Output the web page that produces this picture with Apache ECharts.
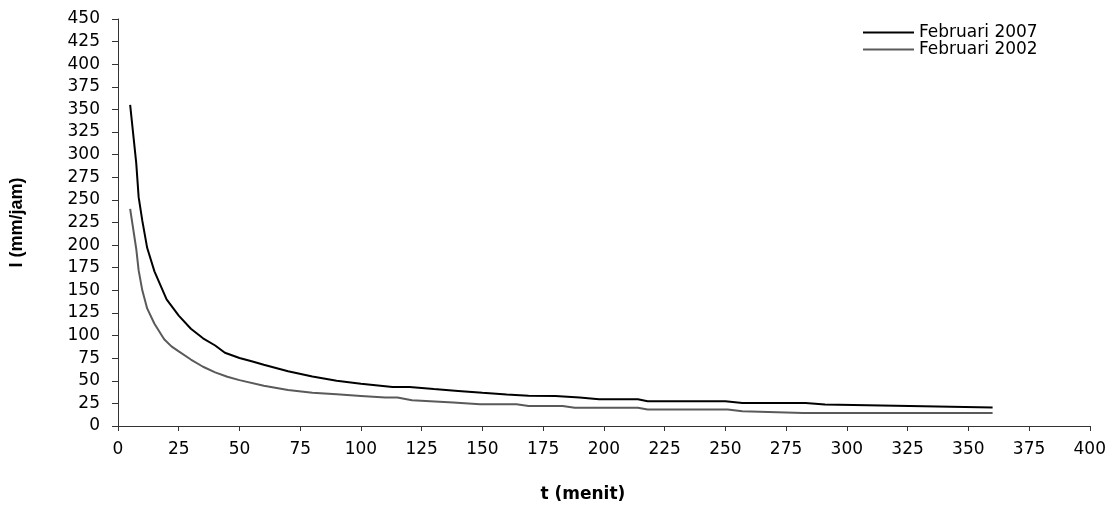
<!DOCTYPE html>
<html>
<head>
<meta charset="utf-8">
<script src="https://cdn.jsdelivr.net/npm/echarts@6/dist/echarts.min.js"></script>
<style>
html,body{margin:0;padding:0;background:#fff;}
#chart{width:1109px;height:514px;}
</style>
</head>
<body>
<div id="chart"></div>
<script>
// Data
const seriesNames = ['Februari 2007', 'Februari 2002'];
const t2007 = [5, 7.5, 8.5, 10, 12, 15, 20, 25, 30, 35, 40, 44, 50, 55, 60, 70, 80, 90, 100, 113, 120, 130, 140, 150, 160, 169, 180, 190, 198, 214, 218, 250, 257, 283, 291, 320, 360];
const i2007 = [355, 291, 253, 227, 197, 171, 140, 122, 107.5, 97, 89, 81, 75.2, 71.5, 67.8, 60.6, 54.8, 50, 46.8, 43, 43, 40.8, 38.8, 36.7, 34.8, 33.4, 33.3, 31.4, 29.6, 29.6, 27.4, 27.4, 25.5, 25.5, 23.8, 22.3, 20.4];
const t2002 = [5, 7.5, 8.5, 10, 12, 15, 19, 22, 25, 30, 35, 40, 45, 50, 60, 70, 80, 90, 100, 110, 115, 121, 138, 149, 164, 169, 183, 188, 214, 218, 251, 257, 282, 360];
const i2002 = [240, 196, 172, 150, 130, 113, 96, 88, 82.5, 73.5, 65.5, 59.3, 54.5, 50.7, 44.6, 39.8, 36.7, 35, 33.2, 31.4, 31.4, 28.5, 25.9, 24, 24, 22.2, 22.2, 20.2, 20.2, 18.2, 18.2, 16.3, 14.4, 14.4];
const xTicks = {min: 0, max: 400, interval: 25};
const yTicks = {min: 0, max: 450, interval: 25};
const xTitle = 't (menit)';
const yTitle = 'I (mm/jam)';

const pairs = (ts, vs) => ts.map((t, k) => [t, vs[k]]);

const chart = echarts.init(document.getElementById('chart'), null, {renderer: 'canvas'});
const axisColor = '#333';
const labelFont = {fontFamily: 'DejaVu Sans', fontSize: 17, color: '#000'};

chart.setOption({
  backgroundColor: '#fff',
  animation: false,
  grid: {left: 118, right: 19, top: 19, bottom: 88, containLabel: false},
  legend: {
    orient: 'vertical',
    left: 858,
    top: 19,
    icon: 'rect',
    itemWidth: 51,
    itemHeight: 2,
    itemGap: 0,
    textStyle: {fontFamily: 'DejaVu Sans', fontSize: 17, color: '#000', lineHeight: 15},
    data: seriesNames
  },
  xAxis: {
    type: 'value',
    min: xTicks.min, max: xTicks.max, interval: xTicks.interval,
    name: xTitle,
    nameLocation: 'middle',
    nameGap: 60,
    nameTextStyle: {fontFamily: 'DejaVu Sans', fontWeight: 'bold', fontSize: 17, color: '#000', padding: [0, 42, 0, 0]},
    splitLine: {show: false},
    axisLine: {show: true, lineStyle: {color: axisColor, width: 1}},
    axisTick: {show: true, inside: false, length: 5, lineStyle: {color: axisColor}},
    axisLabel: Object.assign({margin: 15}, labelFont)
  },
  yAxis: {
    type: 'value',
    min: yTicks.min, max: yTicks.max, interval: yTicks.interval,
    name: yTitle,
    nameLocation: 'middle',
    nameGap: 92,
    nameRotate: 90,
    nameTextStyle: {fontFamily: 'Liberation Sans', fontWeight: 'bold', fontSize: 18, color: '#000'},
    splitLine: {show: false},
    axisLine: {show: true, lineStyle: {color: axisColor, width: 1}},
    axisTick: {show: true, inside: false, length: 6, lineStyle: {color: axisColor}},
    axisLabel: Object.assign({margin: 18}, labelFont)
  },
  series: [
    {
      name: seriesNames[0], type: 'line', symbol: 'none',
      lineStyle: {color: '#000', width: 2}, itemStyle: {color: '#000'},
      data: pairs(t2007, i2007)
    },
    {
      name: seriesNames[1], type: 'line', symbol: 'none',
      lineStyle: {color: '#5a5a5a', width: 2}, itemStyle: {color: '#5a5a5a'},
      data: pairs(t2002, i2002)
    }
  ]
});
</script>
</body>
</html>
